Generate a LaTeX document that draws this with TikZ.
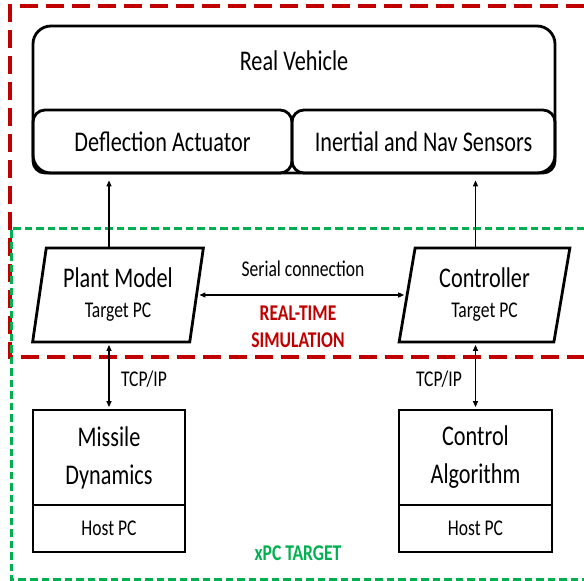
\documentclass[tikz,border=0pt]{standalone}
\usepackage{fontspec}
\setmainfont{Carlito}[FakeStretch=0.78]
\usepackage{tikz}
\usetikzlibrary{shapes.geometric}
\usetikzlibrary{arrows.meta}
\definecolor{frred}{HTML}{C00000}
\definecolor{frgreen}{HTML}{00B050}
\newcommand{\fntbig}{\fontsize{28.5}{38}\selectfont}
\newcommand{\fntsmall}{\fontsize{22.5}{30}\selectfont}
\tikzstyle{box}=[draw, line width=2.8pt, inner sep=0pt, align=center, font=\fntbig]
\tikzstyle{vbox}=[box, rounded corners=18pt]
\tikzstyle{sbox}=[box, rounded corners=12pt, minimum height=63pt]
\tikzstyle{pcbox}=[box, trapezium, trapezium left angle=79, trapezium right angle=101, trapezium stretches=true, minimum width=171pt, minimum height=94pt]
\tikzstyle{hbox}=[box, font=\fntsmall, minimum height=47pt]
\tikzstyle{lbl}=[inner sep=0pt, align=center, font=\fntsmall]
\tikzstyle{link}=[line width=1.3pt, -{Triangle[length=6pt,width=5pt]}]
\tikzstyle{dlink}=[line width=1.3pt, {Triangle[length=6pt,width=5pt]}-{Triangle[length=6pt,width=5pt]}, shorten <=1.5pt, shorten >=1.5pt]

\begin{document}
\begin{tikzpicture}[x=1pt, y=-1pt]
        \useasboundingbox (0,0) rectangle (584,581);
        \draw[frred, line width=3.3pt, dash pattern=on 18pt off 8pt] (584,6) -- (10,6) -- (10,357) -- (584,357);
        \draw[frgreen, line width=3pt, dash pattern=on 7.5pt off 4pt] (584,228) -- (11,228) -- (11,579) -- (584,579);
        \node[vbox, minimum width=522pt, minimum height=147pt] (Vehicle) at (294,99.5) {};
        \node[lbl, font=\fntbig]                   (VehicleName) at (294,61) {Real Vehicle};
        \node[sbox, minimum width=259pt]           (Actuator) at (162.5,141.5) {Deflection Actuator};
        \node[sbox, minimum width=263pt]           (Sensors) at (423.5,141.5) {Inertial and Nav Sensors};
        \node[pcbox]                               (Plant) at (118,295) {Plant Model\\[-8pt]{\fntsmall Target PC}};
        \node[pcbox]                               (Ctrl) at (484.5,295) {Controller\\[-8pt]{\fntsmall Target PC}};
        \node[lbl]                                 (Serial) at (303,269) {Serial connection};
        \node[lbl, font=\fntsmall\bfseries, text=frred] (RealTime) at (298,327) {REAL-TIME\\[-3pt]SIMULATION};
        \node[box, minimum width=152pt, minimum height=95pt] (Dyn) at (109,457.5) {Missile\\Dynamics};
        \node[hbox, minimum width=152pt]           (DynHost) at (109,528.5) {Host PC};
        \node[box, minimum width=153pt, minimum height=95pt] (Algo) at (475.5,457.5) {Control\\Algorithm};
        \node[hbox, minimum width=153pt]           (AlgoHost) at (475.5,528.5) {Host PC};
        \node[lbl]                                 (TcpL) at (144,379) {TCP/IP};
        \node[lbl]                                 (TcpR) at (439,379) {TCP/IP};
        \node[lbl, font=\fntsmall\bfseries, text=frgreen] (Xpc) at (298,553) {xPC TARGET};
        \draw[link] (Dyn.north |- Plant.north) -- ([yshift=-6pt]Dyn.north |- Vehicle.south);
        \draw[link] (Algo.north |- Ctrl.north) -- ([yshift=-6pt]Algo.north |- Vehicle.south);
        \draw[dlink] (Plant.east) -- (Ctrl.west);
        \draw[dlink] (Dyn.north |- Plant.south) -- (Dyn.north);
        \draw[dlink] (Algo.north |- Ctrl.south) -- (Algo.north);
    \end{tikzpicture}
\end{document}
